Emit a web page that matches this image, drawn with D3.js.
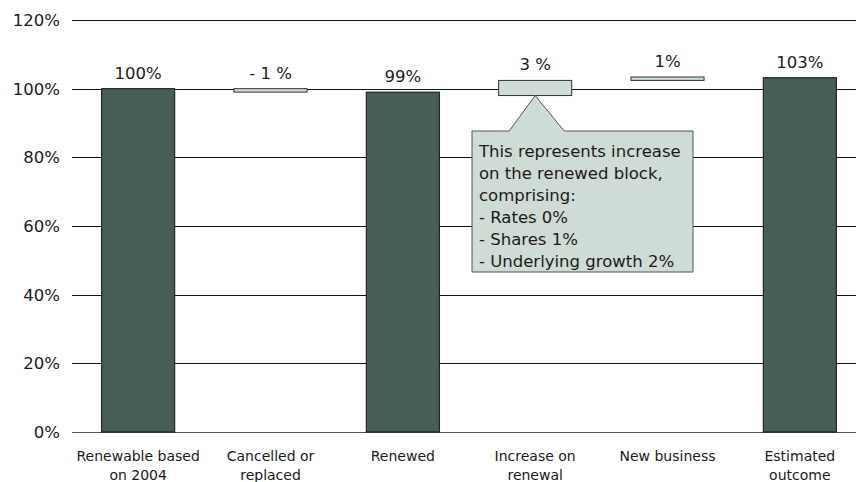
<!DOCTYPE html>
<html><head><meta charset="utf-8">
<script src="https://cdn.jsdelivr.net/npm/d3@7"></script>
<style>body{margin:0;background:#fff}svg{display:block}text{font-family:"DejaVu Sans",sans-serif;fill:#1a1a1a}</style>
</head><body><svg id="c" width="856" height="482"></svg>
<script>
const categories = [["Renewable based","on 2004"],["Cancelled or","replaced"],["Renewed"],["Increase on","renewal"],["New business"],["Estimated","outcome"]];
const barStart = [0, 99, 0, 98, 102.4, 0];
const barEnd = [100, 100, 99, 102.4, 103.4, 103.2];
const barKind = ["total","delta","total","delta","delta","total"];
const barLabels = ["100%","- 1 %","99%","3 %","1%","103%"];
const yTicks = [0,20,40,60,80,100,120];
const calloutLines = ["This represents increase","on the renewed block,","comprising:","- Rates 0%","- Shares 1%","- Underlying growth 2%"];
const calloutIndex = 3;

(function(){
const svg = d3.select("#c");
const x = d3.scaleBand().domain(d3.range(categories.length)).range([72,866]).paddingInner(0.44).paddingOuter(0.22);
const y = d3.scaleLinear().domain([0,120]).range([432,20]);

svg.append("g").selectAll("line").data(yTicks).join("line")
  .attr("x1",72).attr("x2",856).attr("y1",d=>Math.round(y(d))+0.5).attr("y2",d=>Math.round(y(d))+0.5)
  .attr("stroke",d=>d===0?"#555":"#111").attr("stroke-width",1);
svg.append("g").selectAll("text").data(yTicks).join("text")
  .attr("x",60).attr("y",d=>y(d)).attr("dy","0.36em").attr("text-anchor","end")
  .attr("font-size",16.5).text(d=>d+"%");

svg.append("g").selectAll("rect").data(categories.map((c,i)=>i)).join("rect")
  .attr("x",i=>x(i)+0.5).attr("width",x.bandwidth()-1)
  .attr("y",i=>y(barEnd[i])).attr("height",i=>y(barStart[i])-y(barEnd[i]))
  .attr("fill",i=>barKind[i]==="total"?"#465e53":"#cfdbd5")
  .attr("stroke",i=>barKind[i]==="total"?"#111":"#333").attr("stroke-width",1);

svg.append("g").selectAll("text").data(barLabels).join("text")
  .attr("x",(d,i)=>x(i)+x.bandwidth()/2).attr("y",(d,i)=>y(barEnd[i])-10)
  .attr("text-anchor","middle").attr("font-size",16.5).text(d=>d);

const cl = svg.append("g").selectAll("text").data(categories).join("text")
  .attr("text-anchor","middle").attr("font-size",14)
  .attr("transform",(d,i)=>`translate(${x(i)+x.bandwidth()/2},0)`);
cl.selectAll("tspan").data(d=>d).join("tspan").attr("x",0).attr("y",(d,j)=>461+j*18.5).text(d=>d);

const cx = x(calloutIndex)+x.bandwidth()/2, apexY = y(barStart[calloutIndex]);
const bx0=472, bx1=693, by0=131, by1=272;
const path = `M${bx0},${by0} L${cx-26},${by0} L${cx},${apexY} L${cx+29},${by0} L${bx1},${by0} L${bx1},${by1} L${bx0},${by1} Z`;
svg.append("path").attr("d",path).attr("fill","#cfdbd5").attr("stroke","#555").attr("stroke-width",1);
svg.append("g").selectAll("text").data(calloutLines).join("text")
  .attr("x",479).attr("y",(d,i)=>157+i*22).attr("font-size",16.5).text(d=>d);
})();
</script></body></html>
